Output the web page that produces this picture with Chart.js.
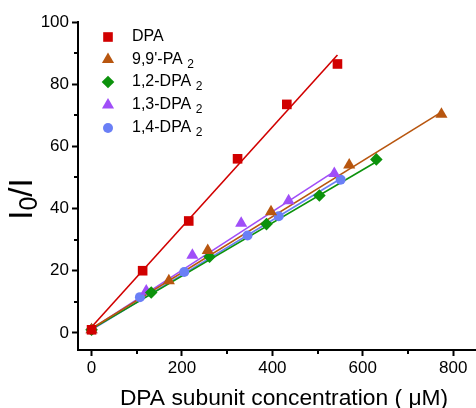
<!DOCTYPE html>
<html>
<head>
<meta charset="utf-8">
<script src="https://cdn.jsdelivr.net/npm/chart.js@4.4.0/dist/chart.umd.min.js"></script>
<style>
  html, body { margin: 0; padding: 0; background: #fff; }
  #wrap { width: 476px; height: 408px; }
</style>
</head>
<body>
<div id="wrap"><canvas id="chart"></canvas></div>
<script>
// DPA subunit concentration (uM) vs I0/I for each compound
const dpaX   = [0, 113, 215, 323, 432, 544];
const dpaY   = [1, 20, 36, 56, 73.5, 86.5];
const pa99X  = [0, 171, 257, 397, 570, 774];
const pa99Y  = [1, 16.8, 26.5, 39, 54, 70.3];
const dpa12X = [0, 132, 261, 387, 504, 630];
const dpa12Y = [1, 13, 24.5, 35, 44.2, 55.8];
const dpa13X = [0, 121, 223, 331, 436, 537];
const dpa13Y = [1, 13.5, 25, 35.3, 42.5, 51.3];
const dpa14X = [0, 107, 205, 345, 414, 551];
const dpa14Y = [1, 11.5, 19.6, 31.3, 37.5, 49.3];

// linear fit lines, [x, y] at start and end
const dpaFit   = [[0, 1.9], [544, 89.4]];
const pa99Fit  = [[0, 1.4], [774, 71.0]];
const dpa12Fit = [[0, 1.2], [632, 55.2]];
const dpa13Fit = [[0, 1.3], [540, 52.2]];
const dpa14Fit = [[0, 1.0], [551, 49.6]];

const seriesNames = ['DPA', "9,9'-PA", '1,2-DPA', '1,3-DPA', '1,4-DPA'];
const seriesSubs  = ['', '2', '2', '2', '2'];

const xTicks = [0, 200, 400, 600, 800];
const xMinor = [100, 300, 500, 700];
const yTicks = [0, 20, 40, 60, 80, 100];
const yMinor = [10, 30, 50, 70, 90];

const colors = ['#d10000', '#b8560f', '#0c920c', '#a04ef8', '#6a7ff6'];
const shapes = ['rect', 'triangle', 'rectRot', 'triangle', 'circle'];
const radii  = [6.8, 7, 6.3, 7, 5];

const FONT = 'Liberation Sans, Arial, sans-serif';

const pts = (xs, ys) => xs.map((x, i) => ({ x: x, y: ys[i] }));
const line = f => f.map(p => ({ x: p[0], y: p[1] }));

const series = [
  pts(dpaX, dpaY), pts(pa99X, pa99Y), pts(dpa12X, dpa12Y),
  pts(dpa13X, dpa13Y), pts(dpa14X, dpa14Y)
];
const fits = [dpaFit, pa99Fit, dpa12Fit, dpa13Fit, dpa14Fit].map(line);

const datasets = [];
series.forEach((d, i) => {
  datasets.push({
    label: seriesNames[i],
    data: d,
    showLine: false,
    pointStyle: shapes[i],
    pointRadius: radii[i],
    pointBackgroundColor: colors[i],
    pointBorderWidth: 0,
    order: 1
  });
});
fits.forEach((d, i) => {
  datasets.push({
    label: seriesNames[i] + ' fit',
    data: d,
    showLine: true,
    borderColor: colors[i],
    borderWidth: 1.6,
    pointRadius: 0,
    order: 2
  });
});

// short minor ticks, axis titles and the legend block
const extras = {
  id: 'extras',
  afterDraw(chart) {
    const ctx = chart.ctx;
    const xs = chart.scales.x, ys = chart.scales.y;
    const area = chart.chartArea;
    ctx.save();
    ctx.strokeStyle = '#000';
    ctx.lineWidth = 2;
    ctx.beginPath();
    // bottom axis runs on to the right edge
    ctx.moveTo(area.right - 1, area.bottom);
    ctx.lineTo(chart.width, area.bottom);
    xMinor.forEach(v => {
      const px = Math.round(xs.getPixelForValue(v));
      ctx.moveTo(px, area.bottom);
      ctx.lineTo(px, area.bottom + 4);
    });
    yMinor.forEach(v => {
      const py = Math.round(ys.getPixelForValue(v));
      ctx.moveTo(area.left, py);
      ctx.lineTo(area.left - 4, py);
    });
    ctx.stroke();

    // y title: I0/I with subscript 0
    ctx.fillStyle = '#000';
    ctx.translate(21, 199);
    ctx.rotate(-Math.PI / 2);
    const big = '33px ' + FONT, small = '25px ' + FONT;
    ctx.font = big;
    const wI = ctx.measureText('I').width;
    const wS = ctx.measureText('/I').width;
    ctx.font = small;
    const w0 = ctx.measureText('0').width;
    let x0 = -(wI + w0 + wS) / 2;
    ctx.textBaseline = 'alphabetic';
    ctx.font = big;
    ctx.fillText('I', x0, 11);
    ctx.font = small;
    ctx.fillText('0', x0 + wI, 16);
    ctx.font = big;
    ctx.fillText('/I', x0 + wI + w0, 11);
    ctx.restore();

    // x title
    ctx.save();
    ctx.fillStyle = '#000';
    ctx.font = '22.8px ' + FONT;
    ctx.textAlign = 'center';
    ctx.textBaseline = 'alphabetic';
    ctx.fillText('DPA subunit concentration ( \u03bcM)', 284, 405);
    ctx.restore();

    // legend
    ctx.save();
    const rowY = [37, 59.5, 82, 105, 128];
    seriesNames.forEach((name, i) => {
      ctx.fillStyle = colors[i];
      Chart.helpers.drawPoint(ctx, {
        pointStyle: shapes[i], radius: radii[i], rotation: 0, borderWidth: 0
      }, 108, rowY[i]);
      ctx.fillStyle = '#000';
      ctx.textBaseline = 'middle';
      ctx.font = '16px ' + FONT;
      const label = seriesSubs[i] ? name + ' ' : name;
      ctx.fillText(label, 132, rowY[i]);
      if (seriesSubs[i]) {
        const w = ctx.measureText(label).width;
        ctx.font = '12px ' + FONT;
        ctx.fillText(seriesSubs[i], 132 + w, rowY[i] + 5);
      }
    });
    ctx.restore();
  }
};

new Chart(document.getElementById('chart'), {
  type: 'scatter',
  data: { datasets: datasets },
  options: {
    responsive: true,
    maintainAspectRatio: false,
    animation: false,
    layout: { padding: { top: 22, right: 1, left: 0, bottom: 0 } },
    plugins: {
      legend: { display: false },
      tooltip: { enabled: false }
    },
    scales: {
      x: {
        type: 'linear',
        min: -30,
        max: 835,
        afterBuildTicks: s => { s.ticks = xTicks.map(v => ({ value: v })); },
        afterFit: s => { s.height = 58; s.paddingLeft = 0; s.paddingRight = 0; },
        border: { display: true, color: '#000', width: 2 },
        grid: { drawOnChartArea: false, drawTicks: true, tickLength: 6, tickWidth: 2, tickColor: '#000' },
        ticks: { color: '#000', font: { family: FONT, size: 17 }, padding: 2, maxRotation: 0 }
      },
      y: {
        type: 'linear',
        min: -5.5,
        max: 100,
        afterBuildTicks: s => { s.ticks = yTicks.map(v => ({ value: v })); },
        afterFit: s => { s.width = 78; s.paddingTop = 0; s.paddingBottom = 0; },
        border: { display: true, color: '#000', width: 2 },
        grid: { drawOnChartArea: false, drawTicks: true, tickLength: 6, tickWidth: 2, tickColor: '#000' },
        ticks: { color: '#000', font: { family: FONT, size: 17 }, padding: 3 }
      }
    }
  },
  plugins: [extras]
});
</script>
</body>
</html>
